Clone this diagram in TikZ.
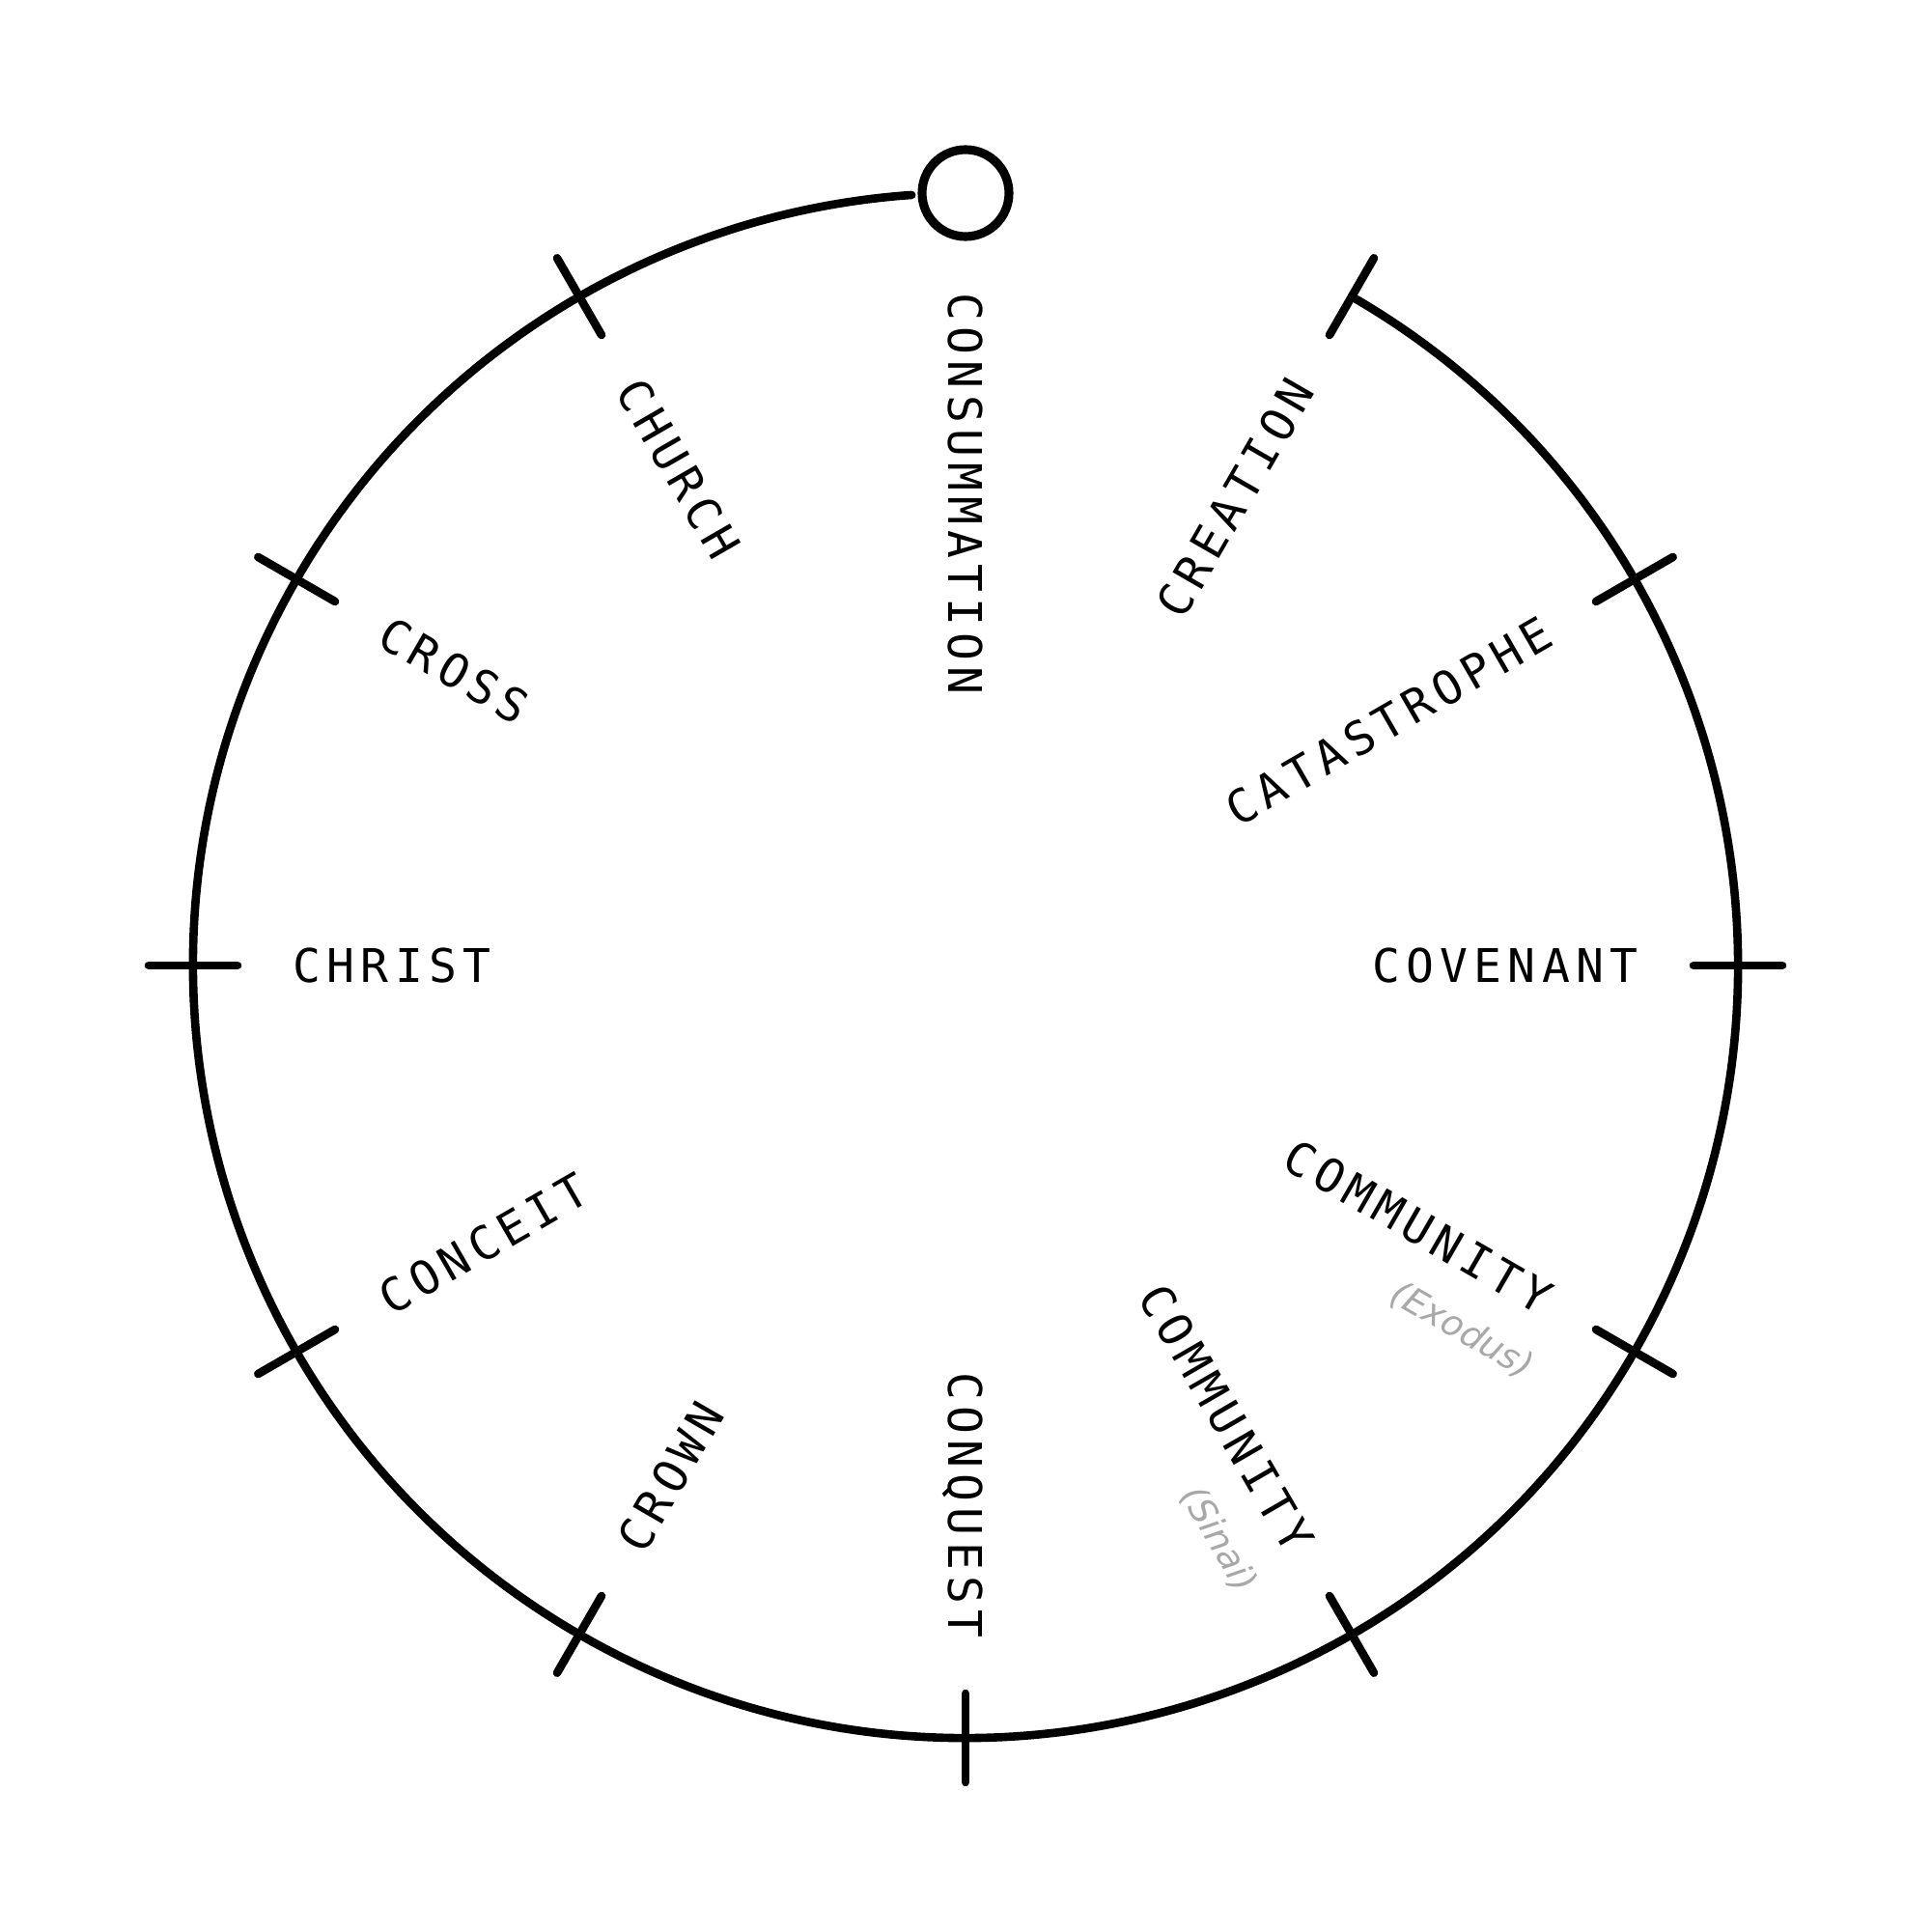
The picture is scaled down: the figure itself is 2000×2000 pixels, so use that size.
\documentclass[tikz,border=0pt]{standalone}
\usepackage{fontspec}
\usetikzlibrary{calc}
\newfontfamily\labelfont[LetterSpace=13]{DejaVu Sans Mono}
\newfontfamily\subfont{DejaVu Sans}
\definecolor{subgray}{HTML}{A8A8A8}
\begin{document}
\begin{tikzpicture}[x=0.1mm,y=0.1mm,
  ring/.style={line width=2.45pt, line cap=round},
  lbl/.style={font=\labelfont\fontsize{13.66pt}{16pt}\selectfont, inner sep=0pt, text height=9.96pt, text depth=0pt},
  sub/.style={font=\subfont\itshape\fontsize{10.5pt}{12pt}\selectfont, text=subgray, inner sep=0pt}]
\useasboundingbox (0,0) rectangle (2000,2000);
\coordinate (O) at (1000,1000);
% main arc
\draw[ring] ([shift={(60:800)}]O) arc[start angle=60, end angle=-266, radius=800];
% ticks
\foreach \a in {60,30,...,-240}
  \draw[ring] ([shift={(\a:754)}]O) -- ([shift={(\a:846)}]O);
% open end circle
\node[draw, circle, line width=2.6pt, minimum size=9mm, inner sep=0pt, fill=white] (endc) at ([shift={(90:800)}]O) {};
% labels, left half
\foreach \a/\t [count=\i] in {90/CONSUMMATION,120/CHURCH,150/CROSS,180/CHRIST,210/CONCEIT,240/CROWN}
  \node[lbl, anchor=west, rotate=\a-180] (L\i) at ([shift={(\a:697)}]O) {\t};
% labels, right half
\foreach \a/\t [count=\i] in {60/CREATION,30/CATASTROPHE,0/COVENANT,-30/COMMUNITY,-60/COMMUNITY,-90/CONQUEST}
  \node[lbl, anchor=east, rotate=\a] (R\i) at ([shift={(\a:697)}]O) {\t};
% sub labels
\node[sub, rotate=-30] (exo) at ($(O)+(-30:634)+(-120:70)$) {(Exodus)};
\node[sub, rotate=-60] (sin) at ($(O)+(-60:646)+(-150:70)$) {(Sinai)};
\end{tikzpicture}
\end{document}
